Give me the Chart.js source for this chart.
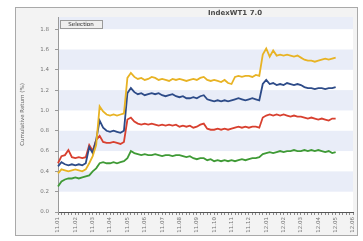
<!DOCTYPE html>
<html lang="en">
<head>
<meta charset="UTF-8">
<title>IndexWT1 7.0</title>
<script src="https://cdn.jsdelivr.net/npm/chart.js"></script>
<style>
  body { margin: 0; background: #fff; }
  #caixa { position: relative; width: 363px; height: 241px; }
</style>
</head>
<body>
<div id="caixa"><canvas id="grafico"></canvas></div>
<script>
// tick labels on the x axis (one every 5 points)
var tickLabels = ["11.01","11.02","11.03","11.04","11.05","11.06","11.07","11.08","11.09",
  "11.10","11.11","11.12","12.01","12.02","12.03","12.04","12.05","12.06"]
var yTicks = [0.0, 0.2, 0.4, 0.6, 0.8, 1.0, 1.2, 1.4, 1.6, 1.8]

var amarelo = [0.38,0.42,0.41,0.40,0.41,0.42,0.41,0.40,0.42,0.48,
  0.55,0.66,1.04,0.99,0.96,0.95,0.96,0.95,0.96,0.97,
  1.32,1.37,1.33,1.31,1.32,1.30,1.31,1.33,1.32,1.30,
  1.31,1.30,1.29,1.31,1.30,1.31,1.30,1.29,1.30,1.31,
  1.30,1.32,1.33,1.30,1.29,1.30,1.29,1.28,1.30,1.27,
  1.26,1.33,1.34,1.33,1.34,1.34,1.33,1.35,1.34,1.55,
  1.61,1.53,1.59,1.54,1.55,1.54,1.55,1.54,1.53,1.54,
  1.52,1.50,1.49,1.49,1.48,1.49,1.50,1.51,1.50,1.51,1.52]
var azul = [0.45,0.49,0.47,0.46,0.47,0.46,0.47,0.46,0.48,0.64,
  0.58,0.71,0.90,0.83,0.80,0.79,0.80,0.79,0.78,0.80,
  1.17,1.22,1.18,1.16,1.17,1.15,1.16,1.17,1.16,1.17,
  1.15,1.14,1.15,1.16,1.14,1.13,1.14,1.12,1.12,1.13,
  1.12,1.14,1.15,1.11,1.10,1.09,1.10,1.09,1.10,1.09,
  1.10,1.11,1.12,1.11,1.10,1.11,1.12,1.11,1.10,1.26,
  1.30,1.26,1.27,1.25,1.26,1.25,1.27,1.26,1.25,1.26,
  1.25,1.23,1.22,1.22,1.21,1.22,1.22,1.21,1.22,1.22,1.23]
var vermelho = [0.48,0.55,0.56,0.61,0.54,0.53,0.54,0.53,0.54,0.66,
  0.60,0.71,0.75,0.69,0.68,0.68,0.69,0.68,0.67,0.69,
  0.91,0.93,0.89,0.87,0.86,0.87,0.86,0.87,0.86,0.85,
  0.86,0.85,0.86,0.85,0.86,0.84,0.85,0.84,0.85,0.83,
  0.84,0.86,0.87,0.82,0.81,0.81,0.82,0.81,0.82,0.81,
  0.82,0.83,0.84,0.83,0.84,0.83,0.84,0.84,0.83,0.93,
  0.95,0.96,0.95,0.96,0.95,0.96,0.95,0.94,0.95,0.94,
  0.94,0.93,0.92,0.93,0.92,0.91,0.92,0.91,0.90,0.92,0.92]
var verde = [0.25,0.30,0.32,0.33,0.33,0.34,0.33,0.34,0.35,0.36,
  0.40,0.43,0.48,0.49,0.48,0.48,0.49,0.48,0.49,0.50,
  0.53,0.60,0.58,0.57,0.56,0.57,0.56,0.56,0.57,0.56,
  0.55,0.56,0.56,0.55,0.56,0.56,0.55,0.54,0.55,0.53,
  0.52,0.53,0.53,0.51,0.52,0.50,0.51,0.50,0.51,0.50,
  0.51,0.50,0.51,0.52,0.51,0.52,0.53,0.53,0.54,0.57,
  0.58,0.59,0.58,0.59,0.60,0.59,0.60,0.60,0.61,0.60,
  0.60,0.61,0.60,0.61,0.60,0.61,0.60,0.59,0.60,0.58,0.59]

var categorias = []
for (var i = 0; i <= (tickLabels.length - 1) * 5; i++) {
  categorias.push(i)
}

// painel cinza, faixas do fundo, titulo e caixa "Selection"
const fundo = {
  id: 'fundo',
  beforeDraw(chart) {
    const ctx = chart.ctx
    const a = chart.chartArea
    const y = chart.scales.y
    ctx.save()
    ctx.fillStyle = '#ffffff'
    ctx.fillRect(0, 0, chart.width, chart.height)
    ctx.fillStyle = '#f3f3f3'
    ctx.fillRect(15, 7, 343, 229)
    ctx.strokeStyle = '#a9a9a9'
    ctx.lineWidth = 1
    ctx.strokeRect(15.5, 7.5, 342, 228)
    ctx.fillStyle = '#ffffff'
    ctx.fillRect(a.left, a.top, a.right - a.left, a.bottom - a.top)
    ctx.fillStyle = '#e9edf8'
    ;[0.2, 0.6, 1.0, 1.4, 1.8].forEach(function (v) {
      var top = Math.max(y.getPixelForValue(v + 0.2), a.top)
      var bot = y.getPixelForValue(v)
      ctx.fillRect(a.left, top, a.right - a.left, bot - top)
    })
    ctx.restore()
  },
  afterDraw(chart) {
    const ctx = chart.ctx
    ctx.save()
    ctx.fillStyle = '#4a4a4a'
    ctx.font = 'bold 7px "DejaVu Sans"'
    ctx.textAlign = 'center'
    ctx.textBaseline = 'middle'
    ctx.fillText('IndexWT1 7.0', 235, 13)
    ctx.fillStyle = '#efefef'
    ctx.fillRect(60, 20, 42, 8)
    ctx.strokeStyle = '#9a9a9a'
    ctx.strokeRect(60.5, 20.5, 42, 8)
    ctx.fillStyle = '#222'
    ctx.font = '5.5px "DejaVu Sans"'
    ctx.fillText('Selection', 81, 24.5)
    ctx.restore()
  }
}

function serie(nome, dados, cor) {
  return {
    label: nome,
    data: dados,
    borderColor: cor,
    backgroundColor: cor,
    borderWidth: 1.8,
    pointRadius: 0,
    tension: 0,
    fill: false
  }
}

const config = {
  type: 'line',
  data: {
    labels: categorias,
    datasets: [
      serie('A', amarelo, '#e8b324'),
      serie('B', azul, '#2d4b88'),
      serie('C', vermelho, '#d8402f'),
      serie('D', verde, '#3f9a36')
    ]
  },
  options: {
    responsive: true,
    maintainAspectRatio: false,
    animation: false,
    layout: { padding: { left: 15, right: 10, top: 17, bottom: 0 } },
    plugins: {
      legend: { display: false },
      title: { display: false },
      tooltip: { enabled: false }
    },
    scales: {
      x: {
        type: 'category',
        grid: { drawOnChartArea: false, tickLength: 3, color: '#8a8a8a' },
        border: { color: '#555' },
        ticks: {
          autoSkip: false,
          minRotation: 90,
          maxRotation: 90,
          padding: 2,
          color: '#777',
          font: { family: 'DejaVu Sans', size: 5.5 },
          callback: function (v, i) { return i % 5 === 0 ? tickLabels[i / 5] : '' }
        },
        afterFit: function (scale) { scale.height = 29 }
      },
      y: {
        min: 0,
        max: 1.92,
        afterBuildTicks: function (scale) {
          scale.ticks = yTicks.map(function (v) { return { value: v } })
        },
        grid: { drawOnChartArea: false, tickLength: 3, color: '#9a9a9a' },
        border: { color: '#9a9a9a' },
        ticks: {
          padding: 6,
          color: '#777',
          font: { family: 'DejaVu Sans', size: 5.5 },
          callback: function (v) { return v.toFixed(1) }
        },
        title: {
          display: true,
          text: 'Cumulative Return (%)',
          color: '#666',
          font: { family: 'DejaVu Sans', size: 5.5 },
          padding: { top: 4, bottom: 0 }
        },
        afterFit: function (scale) { scale.width = 43 }
      }
    }
  },
  plugins: [fundo]
}

const grafico = new Chart(document.getElementById('grafico'), config)
</script>
</body>
</html>
